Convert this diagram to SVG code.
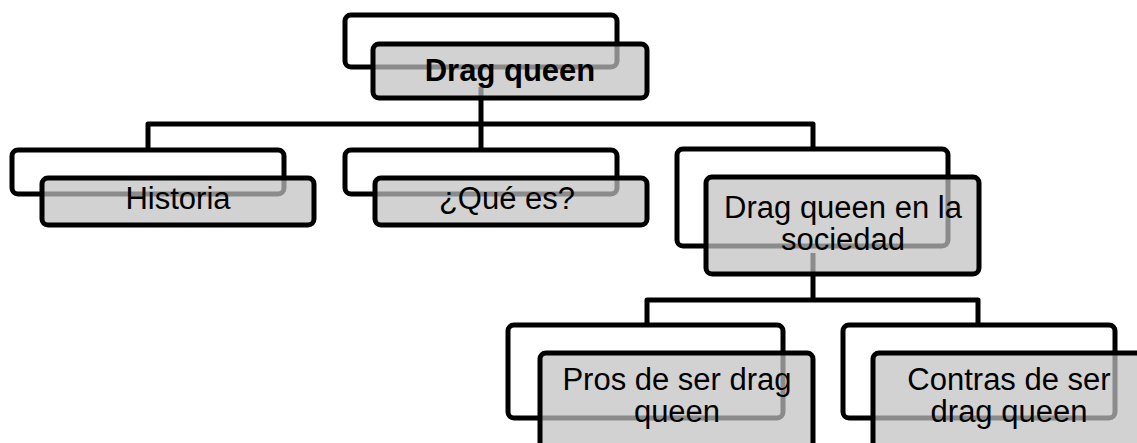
<svg xmlns="http://www.w3.org/2000/svg" width="1137" height="443" viewBox="0 0 1137 443">
  <style>
    .back { fill: #ffffff; stroke: #000000; stroke-width: 5; }
    .front { fill: rgba(192,192,192,0.72); stroke: #000000; stroke-width: 5; }
    .conn { fill: none; stroke: #000000; stroke-width: 5; stroke-linejoin: round; }
    .t { font-family: "Liberation Sans", Arial, sans-serif; font-size: 31px; fill: #000000; text-anchor: middle; }
    .b { font-weight: bold; }
  </style>
  <rect width="1137" height="443" fill="#ffffff"/>

  <!-- back boxes -->
  <g id="backs">
    <rect class="back" x="345" y="15" width="272" height="52" rx="6"/>
    <rect class="back" x="12" y="150" width="272" height="44" rx="6"/>
    <rect class="back" x="345" y="150" width="272" height="44" rx="6"/>
    <rect class="back" x="677" y="149" width="271" height="97" rx="6"/>
    <rect class="back" x="508" y="325" width="275" height="93" rx="6"/>
    <rect class="back" x="843" y="325" width="272" height="93" rx="6"/>
  </g>

  <!-- connectors -->
  <g id="connectors">
    <path class="conn" d="M481 87 V124 M148 150 V124 H813 V150 M481 124 V150"/>
    <path class="conn" d="M813 253 V300 M647 325 V300 H978 V325"/>
  </g>

  <g id="node-drag-queen">
    <rect class="front" x="373" y="44" width="274" height="54" rx="6"/>
    <text class="t b" x="510" y="81">Drag queen</text>
  </g>

  <g id="node-historia">
    <rect class="front" x="42" y="178" width="272" height="47" rx="6"/>
    <text class="t" x="178" y="209">Historia</text>
  </g>

  <g id="node-que-es">
    <rect class="front" x="375" y="178" width="272" height="47" rx="6"/>
    <text class="t" x="507" y="209">¿Qué es?</text>
  </g>

  <g id="node-sociedad">
    <rect class="front" x="706" y="177" width="273" height="97" rx="6"/>
    <text class="t" x="843" y="218">Drag queen en la</text>
    <text class="t" x="843" y="250">sociedad</text>
  </g>

  <g id="node-pros">
    <rect class="front" x="540" y="353" width="273" height="98" rx="6"/>
    <text class="t" x="677" y="390">Pros de ser drag</text>
    <text class="t" x="677" y="422">queen</text>
  </g>

  <g id="node-contras">
    <rect class="front" x="873" y="353" width="273" height="98" rx="6"/>
    <text class="t" x="1009" y="390">Contras de ser</text>
    <text class="t" x="1009" y="422">drag queen</text>
  </g>
</svg>
